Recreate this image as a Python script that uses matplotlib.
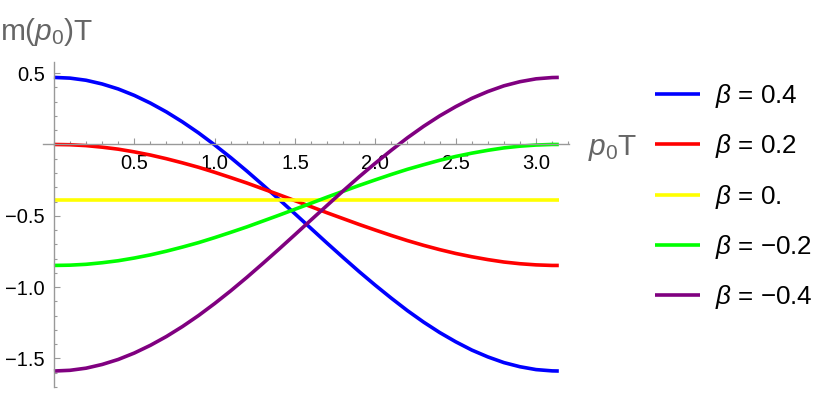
import matplotlib
matplotlib.use("Agg")
import matplotlib.pyplot as plt
from matplotlib.ticker import MultipleLocator

plt.rcParams['font.family'] = ['Liberation Sans', 'DejaVu Sans']
plt.rcParams['mathtext.fontset'] = 'custom'
plt.rcParams['mathtext.rm'] = 'Liberation Sans'
plt.rcParams['mathtext.it'] = 'Liberation Sans:italic'

# ---- data ----
p0T = [0.0, 0.1, 0.2, 0.3, 0.4, 0.5, 0.6, 0.7, 0.8, 0.9, 1.0, 1.1, 1.2, 1.3, 1.4, 1.5,
       1.6, 1.7, 1.8, 1.9, 2.0, 2.1, 2.2, 2.3, 2.4, 2.5, 2.6, 2.7, 2.8, 2.9, 3.0, 3.1, 3.1416]
m_b04 = [0.470, 0.465, 0.450, 0.424, 0.389, 0.344, 0.290, 0.228, 0.158, 0.081, -0.003,
         -0.092, -0.186, -0.284, -0.384, -0.486, -0.589, -0.692, -0.793, -0.892, -0.987,
         -1.078, -1.165, -1.245, -1.318, -1.383, -1.441, -1.489, -1.529, -1.558, -1.578,
         -1.587, -1.588]
m_b02 = [0.000, -0.002, -0.008, -0.019, -0.033, -0.052, -0.074, -0.100, -0.129, -0.160,
         -0.195, -0.232, -0.270, -0.311, -0.352, -0.394, -0.436, -0.479, -0.520, -0.561,
         -0.600, -0.638, -0.674, -0.707, -0.737, -0.764, -0.787, -0.807, -0.824, -0.836,
         -0.844, -0.848, -0.848]
m_b00 = [-0.39] * len(p0T)
m_bm02 = [-0.848, -0.846, -0.840, -0.829, -0.815, -0.796, -0.774, -0.748, -0.719, -0.688,
          -0.653, -0.616, -0.578, -0.537, -0.496, -0.454, -0.412, -0.369, -0.328, -0.287,
          -0.248, -0.210, -0.174, -0.142, -0.111, -0.084, -0.061, -0.041, -0.024, -0.012,
          -0.004, 0.000, 0.000]
m_bm04 = [-1.588, -1.583, -1.568, -1.542, -1.507, -1.462, -1.408, -1.346, -1.276, -1.199,
          -1.115, -1.026, -0.932, -0.834, -0.734, -0.632, -0.529, -0.427, -0.325, -0.226,
          -0.131, -0.040, 0.047, 0.127, 0.200, 0.265, 0.323, 0.371, 0.411, 0.440, 0.460,
          0.469, 0.470]

series = [m_b04, m_b02, m_b00, m_bm02, m_bm04]
labels = [r"$\beta$ = 0.4", r"$\beta$ = 0.2", r"$\beta$ = 0.", r"$\beta$ = −0.2", r"$\beta$ = −0.4"]
colors = ["#0000ff", "#ff0000", "#ffff00", "#00ff00", "#800080"]

xticks = [0.5, 1.0, 1.5, 2.0, 2.5, 3.0]
xticklabels = ["0.5", "1.0", "1.5", "2.0", "2.5", "3.0"]
yticks = [0.5, -0.5, -1.0, -1.5]
yticklabels = ["0.5", "−0.5", "−1.0", "−1.5"]

W, H = 830, 399
fig = plt.figure(figsize=(W / 100, H / 100), dpi=100)
ax = fig.add_axes([43 / W, (H - 387) / H, (569 - 43) / W, (387 - 62) / H])

lines = []
for ys, lab, c in zip(series, labels, colors):
    ln, = ax.plot(p0T, ys, color=c, lw=2.6, label=lab, solid_capstyle='butt',
                  solid_joinstyle='round')
    lines.append(ln)

ax.set_xlim(-0.068, 3.205)
ax.set_ylim(-1.70, 0.578)

axis_gray = (0.6, 0.6, 0.6)
for s in ['top', 'right']:
    ax.spines[s].set_visible(False)
ax.spines['left'].set_position(('data', 0))
ax.spines['bottom'].set_position(('data', 0))
for s in ['left', 'bottom']:
    ax.spines[s].set_color(axis_gray)
    ax.spines[s].set_linewidth(1.0)

ax.set_xticks(xticks)
ax.set_xticklabels(xticklabels)
ax.set_yticks(yticks)
ax.set_yticklabels(yticklabels)
ax.xaxis.set_minor_locator(MultipleLocator(0.1))
ax.yaxis.set_minor_locator(MultipleLocator(0.1))
ax.tick_params(which='both', direction='in', color=axis_gray, width=0.8, labelsize=14.5, labelcolor='black')
ax.tick_params(which='major', length=4.3)
ax.tick_params(which='minor', length=2.5)
ax.tick_params(axis='x', which='major', pad=7)
ax.tick_params(axis='y', which='major', pad=6.5)

label_gray = (0.4, 0.4, 0.4)
fig.text(0 / W, (H - 40) / H, "m($p_0$)T", fontsize=21.5, color=label_gray, va='baseline', ha='left')
fig.text(588 / W, (H - 155) / H, "$p_0$T", fontsize=21.5, color=label_gray, va='baseline', ha='left')

fig.legend(handles=lines, labels=labels, loc='upper left', bbox_to_anchor=(655 / W, (H - 82) / H),
           frameon=False, fontsize=18.7, handlelength=1.75, handletextpad=0.55, labelspacing=0.86,
           borderpad=0, borderaxespad=0)

fig.savefig("out.png", dpi=100)
